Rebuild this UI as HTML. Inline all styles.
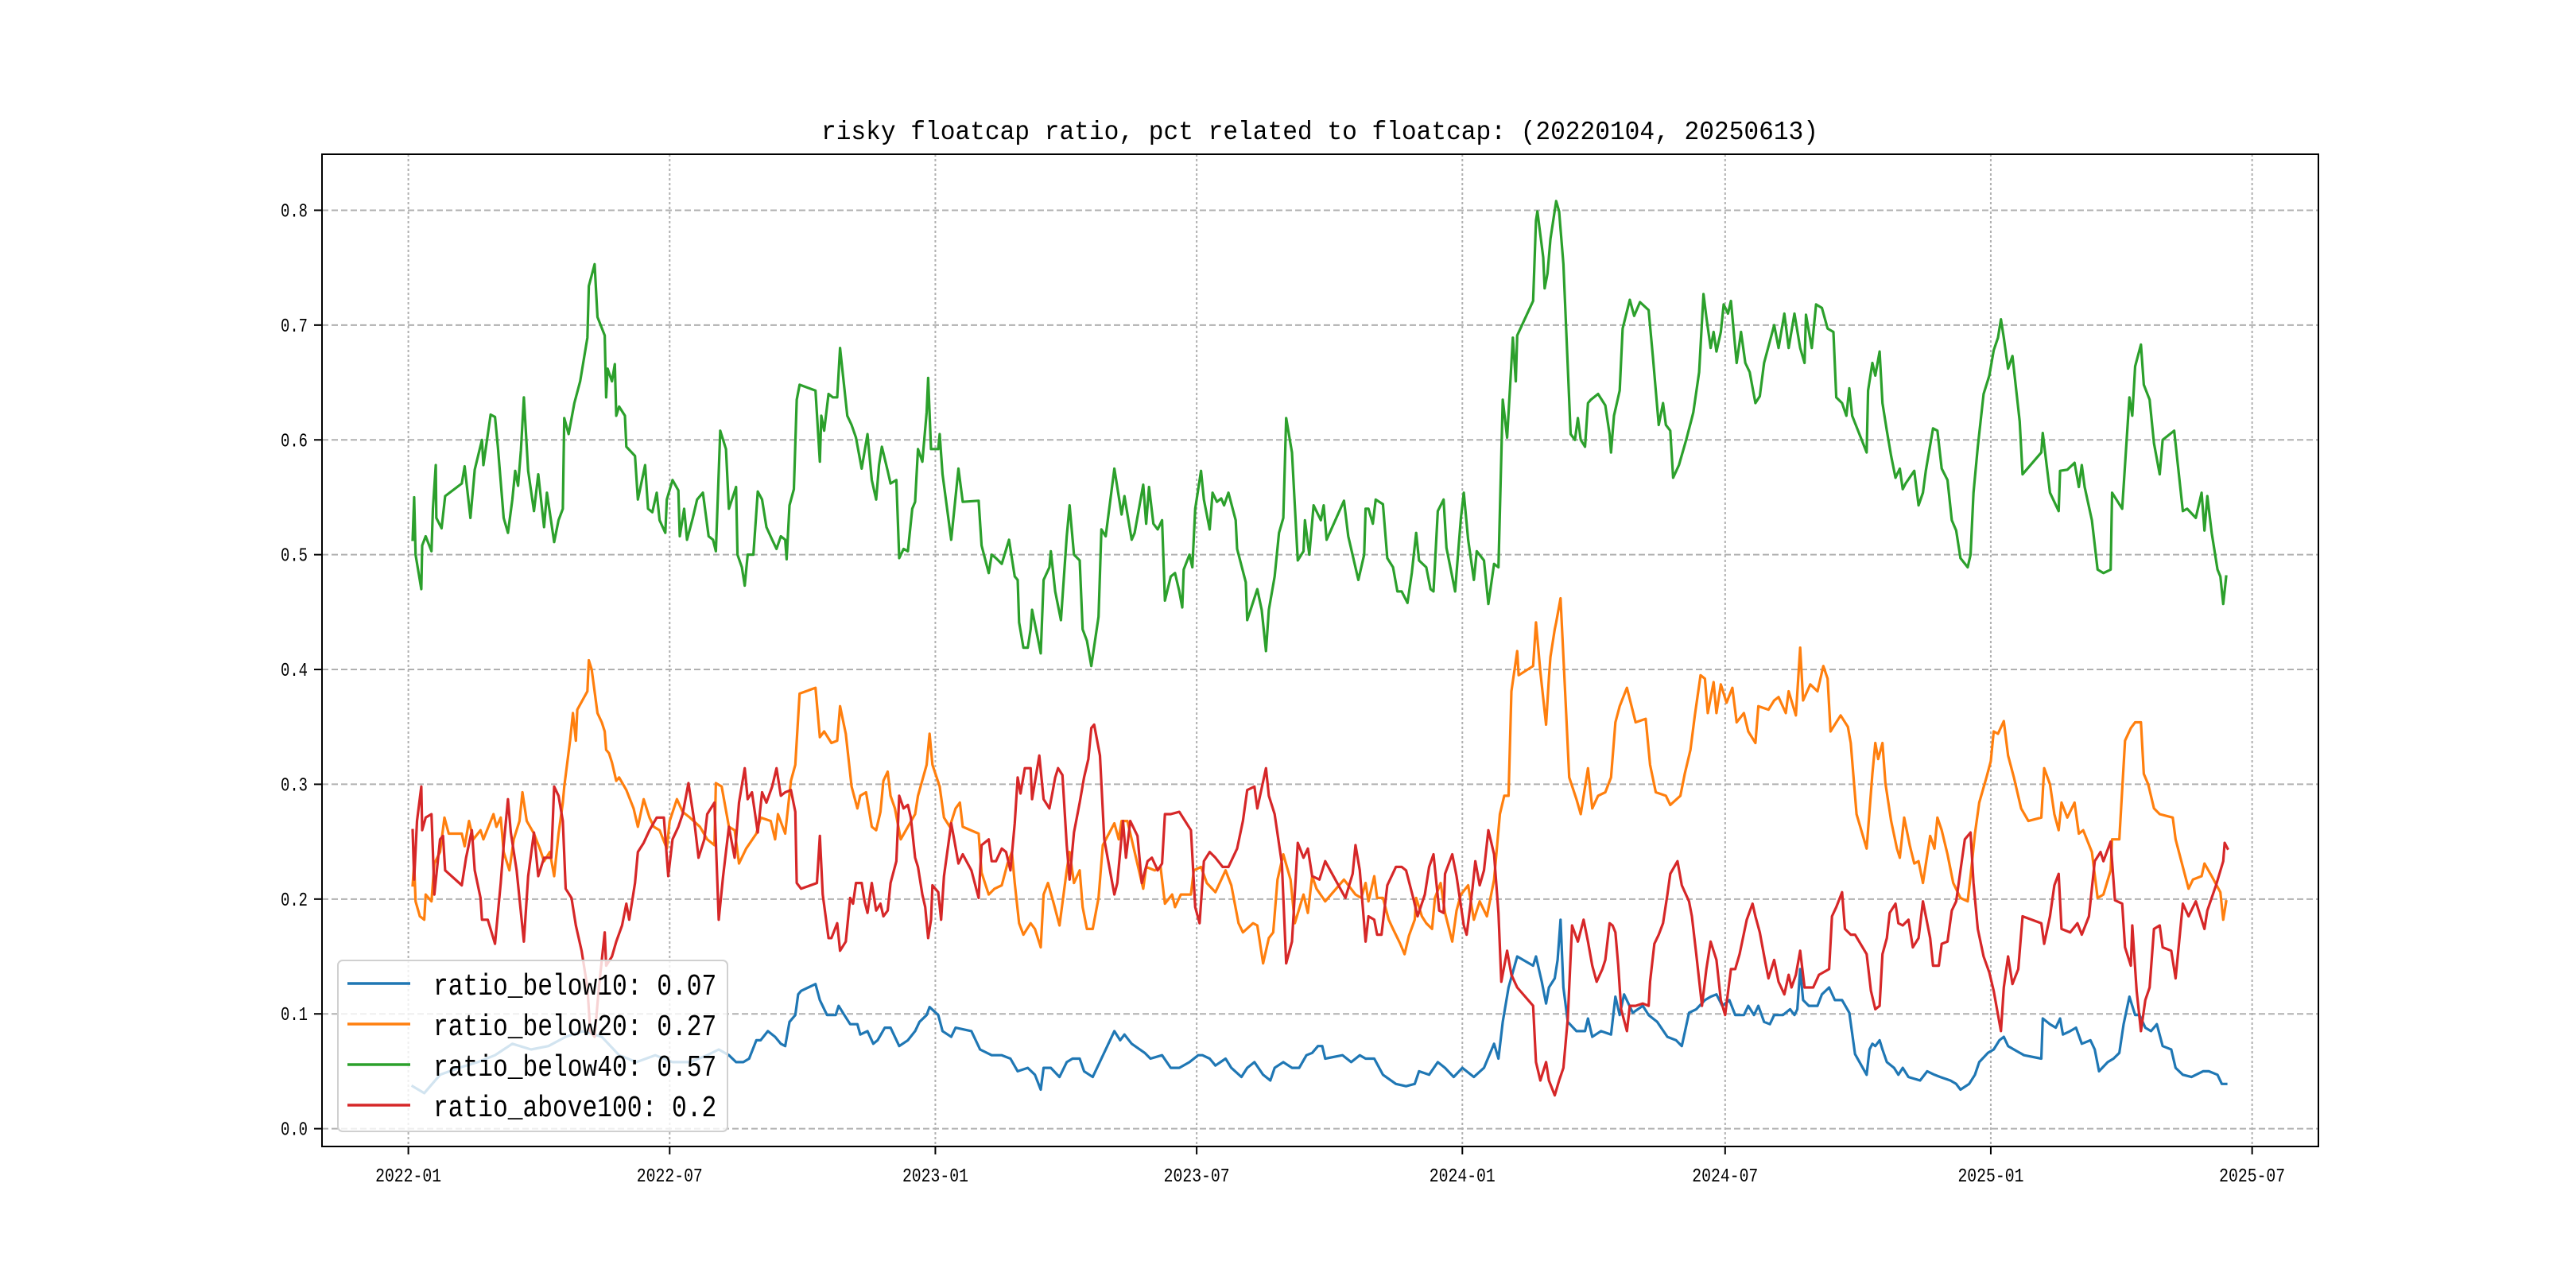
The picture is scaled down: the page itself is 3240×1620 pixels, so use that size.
<!DOCTYPE html>
<html><head><meta charset="utf-8">
<style>
html,body{margin:0;padding:0;background:#fff;}
svg{display:block;}
text{font-family:"Liberation Mono","WenQuanYi Zen Hei",monospace;fill:#000;}
</style></head>
<body>
<svg id="chart" width="3240" height="1620" viewBox="0 0 3240 1620" xmlns="http://www.w3.org/2000/svg">
<rect width="3240" height="1620" fill="#fff"/>
<g id="grid"></g>
<g id="series"></g>
<rect x="405" y="194" width="2511" height="1248" fill="none" stroke="#000" stroke-width="2"/>
<g id="xticks"></g>
<g id="yticks"></g>
<text x="1660" y="175" text-anchor="middle" font-size="33" textLength="1254" lengthAdjust="spacingAndGlyphs">risky floatcap ratio, pct related to floatcap: (20220104, 20250613)</text>
<g id="legend"></g>
</svg>
<script>
// x values: days since 2022-01-01
const xTickDays = [0,181,365,546,730,912,1096,1277];
const xTickLabels = ["2022-01","2022-07","2023-01","2023-07","2024-01","2024-07","2025-01","2025-07"];
const yTicks = [0,0.1,0.2,0.3,0.4,0.5,0.6,0.7,0.8];
const yTickLabels = ["0.0","0.1","0.2","0.3","0.4","0.5","0.6","0.7","0.8"];
const seriesNames = ["ratio_below10: 0.07","ratio_below20: 0.27","ratio_below40: 0.57","ratio_above100: 0.2"];
const seriesColors = ["#1f77b4","#ff7f0e","#2ca02c","#d62728"];

const below10 = [[3,.037],[11,.031],[22,.047],[35,.053],[48,.058],[60,.064],[72,.074],[85,.069],[97,.072],[109,.080],[121,.085],[134,.080],[146,.064],[158,.058],[171,.064],[183,.058],[195,.058],[207,.064],[215,.069],[222,.064],[227,.058],[232,.058],[236,.061],[241,.077],[244,.077],[249,.085],[254,.080],[258,.074],[261,.072],[264,.093],[268,.099],[270,.117],[272,.120],[282,.126],[285,.112],[290,.099],[296,.099],[298,.107],[302,.099],[306,.091],[311,.091],[313,.082],[318,.085],
[322,.074],[325,.077],[330,.088],[334,.088],[340,.072],[346,.077],[351,.085],[354,.093],[359,.099],[361,.106],[367,.099],[370,.085],[376,.080],[379,.088],[390,.085],[396,.069],[404,.064],[411,.064],[417,.061],[422,.050],[429,.053],[434,.047],[438,.034],[440,.053],[445,.053],[451,.045],[456,.058],[460,.061],[465,.061],[468,.050],[474,.045],[480,.061],[489,.085],[493,.077],[496,.082],[501,.074],[510,.066],[514,.061],[522,.064],[528,.053],[534,.053],[541,.058],[547,.064],[550,.064],[555,.061],[559,.055],[566,.061],[570,.053],[577,.045],[581,.053],[586,.058],[592,.047],[597,.042],[600,.053],[606,.058],[612,.053],[617,.053],[622,.064],[626,.066],[630,.072],[633,.072],[635,.061],[647,.064],[653,.058],[659,.064],[663,.061],
[669,.061],[675,.047],[684,.039],[691,.037],[697,.039],[700,.050],[707,.047],[713,.058],[718,.053],[724,.045],[730,.053],[738,.045],[745,.053],[752,.074],[755,.061],[758,.093],[762,.123],[768,.150],[779,.142],[781,.150],[785,.128],[788,.109],[790,.123],[794,.131],[796,.147],[798,.182],[800,.123],[803,.093],[809,.085],[815,.085],[817,.096],[820,.080],[826,.085],[833,.082],[836,.115],[839,.099],[842,.117],[848,.101],[855,.107],[859,.099],[865,.093],[872,.080],[878,.077],[882,.072],[887,.101],[892,.104],[898,.112],[902,.115],[906,.117],[910,.107],[915,.112],[919,.099],[925,.099],[928,.107],[932,.099],[935,.107],[939,.093],[943,.091],[946,.099],[952,.099],[957,.104],[960,.099],[962,.104],[964,.139],[966,.112],[970,.107],[976,.107],[979,.117],[984,.123],[988,.112],[993,.112],[998,.101],[1002,.065],
[1010,.047],[1012,.069],[1014,.074],[1016,.072],[1019,.077],[1021,.069],[1024,.058],[1029,.053],[1032,.047],[1035,.053],[1039,.045],[1047,.042],[1052,.050],[1057,.047],[1061,.045],[1068,.042],[1072,.039],[1075,.034],[1081,.039],[1085,.047],[1088,.058],[1094,.066],[1098,.069],[1102,.077],[1105,.080],[1108,.072],[1112,.069],[1119,.064],[1131,.061],[1132,.096],[1137,.091],[1141,.088],[1144,.096],[1146,.082],[1151,.085],[1155,.088],[1159,.074],[1165,.077],[1168,.069],[1171,.050],[1177,.058],[1181,.061],[1185,.066],[1188,.091],[1192,.115],[1196,.099],[1199,.099],[1203,.088],[1207,.085],[1211,.091],[1215,.072],[1221,.069],[1224,.053],[1229,.047],[1235,.045],[1243,.050],[1247,.050],[1253,.047],[1256,.039],[1259,.039]];

const below20 = [[3,.212],[4,.231],[5,.198],[8,.185],[11,.182],[12,.204],[16,.198],[18,.231],[22,.241],[25,.271],[28,.257],[37,.257],[39,.246],[42,.268],[45,.252],[50,.260],[52,.252],[59,.274],[61,.263],[64,.271],[66,.241],[70,.225],[73,.252],[77,.268],[79,.293],[82,.268],[87,.257],[91,.244],[94,.233],[98,.241],[101,.220],[104,.257],[107,.284],[108,.298],[112,.338],[114,.362],[116,.338],[117,.365],[124,.381],[125,.408],[127,.400],[131,.362],[134,.354],[136,.346],[137,.330],[139,.327],[141,.319],[144,.303],[146,.306],[151,.295],[156,.279],[159,.263],[163,.287],[167,.271],[170,.263],[174,.260],[179,.244],[181,.268],[186,.287],[190,.276],[195,.271],[202,.263],[207,.252],[212,.247],[213,.301],[217,.298],[222,.263],[226,.260],[229,.231],[234,.244],[241,.257],[244,.271],[251,.268],[254,.252],[256,.274],[261,.257],[265,.303],[268,.317],[271,.379],[282,.384],[285,.341],[288,.346],[293,.336],[297,.338],[299,.368],[303,.344],[307,.298],[311,.279],[313,.290],[317,.293],
[321,.263],[324,.260],[327,.276],[329,.303],[332,.311],[334,.290],[337,.279],[341,.252],[346,.263],[351,.274],[353,.290],[359,.317],[361,.344],[363,.317],[368,.298],[371,.271],[375,.263],[379,.279],[382,.284],[384,.263],[395,.257],[397,.223],[402,.204],[406,.209],[411,.212],[415,.231],[418,.241],[420,.214],[423,.179],[426,.169],[431,.179],[434,.174],[438,.158],[440,.204],[443,.214],[447,.196],[451,.177],[456,.225],[458,.241],[461,.214],[465,.225],[467,.193],[470,.174],[474,.174],[478,.201],[481,.247],[489,.266],[492,.252],[494,.268],[498,.268],[503,.241],[509,.209],[511,.228],[517,.225],[521,.228],[524,.196],[529,.204],[531,.193],[535,.204],[542,.204],[544,.225],[549,.228],[553,.214],[559,.206],[566,.225],[570,.212],[575,.179],[578,.171],[585,.179],[588,.177],[592,.144],[596,.166],[599,.171],[602,.217],[606,.239],[611,.217],[614,.179],[620,.204],[623,.188],[626,.220],[629,.209],[635,.198],[648,.217],[656,.204],[660,.201],
[663,.214],[665,.198],[669,.220],[671,.201],[675,.201],[679,.182],[682,.174],[687,.161],[690,.152],[693,.168],[697,.182],[698,.201],[702,.185],[705,.179],[709,.174],[711,.201],[715,.214],[718,.188],[723,.163],[726,.190],[729,.204],[734,.212],[738,.182],[742,.198],[747,.185],[752,.217],[756,.274],[759,.290],[762,.290],[764,.381],[768,.416],[769,.395],[779,.403],[781,.441],[784,.398],[788,.352],[790,.393],[791,.411],[794,.435],[795,.441],[798,.462],[802,.360],[804,.306],[809,.287],[812,.274],[817,.314],[820,.279],[824,.290],[829,.293],[833,.306],[836,.354],[839,.368],[844,.384],[850,.354],[857,.357],[860,.317],[864,.293],[871,.290],[874,.282],[881,.290],[884,.309],[888,.330],[891,.360],[895,.395],[898,.392],[900,.362],[904,.389],[906,.362],[909,.387],[913,.371],[917,.384],[920,.354],[925,.362],[928,.346],[933,.336],[935,.368],[942,.365],[946,.373],[949,.376],[954,.362],[956,.381],[961,.360],[964,.419],[966,.373],[971,.387],[976,.381],[980,.403],[983,.392],[985,.346],[992,.360],[997,.350],[999,.336],[1003,.274],
[1010,.244],[1014,.309],[1016,.336],[1018,.322],[1021,.336],[1023,.301],[1027,.268],[1031,.244],[1033,.236],[1036,.271],[1040,.246],[1043,.231],[1046,.233],[1049,.214],[1054,.255],[1057,.244],[1059,.271],[1062,.260],[1066,.239],[1070,.214],[1075,.201],[1080,.198],[1082,.220],[1085,.257],[1088,.284],[1093,.306],[1096,.320],[1098,.346],[1101,.344],[1105,.355],[1108,.325],[1112,.306],[1117,.279],[1122,.268],[1131,.271],[1133,.314],[1137,.300],[1140,.274],[1143,.260],[1145,.284],[1149,.271],[1154,.284],[1157,.257],[1160,.260],[1166,.241],[1170,.201],[1174,.204],[1179,.225],[1180,.252],[1185,.252],[1189,.338],[1193,.349],[1196,.354],[1200,.354],[1202,.309],[1205,.300],[1209,.279],[1213,.274],[1222,.271],[1224,.252],[1229,.228],[1233,.209],[1236,.217],[1242,.220],[1244,.231],[1249,.220],[1255,.206],[1257,.182],[1259,.198]];

const below40 = [[3,.513],[4,.550],[5,.500],[9,.470],[9.6,.508],[12,.516],[16,.503],[17,.540],[19,.578],[19.4,.532],[23,.523],[25.5,.551],[37,.562],[39,.577],[43,.532],[46,.574],[51,.600],[52,.578],[57,.622],[60,.620],[62,.594],[66,.532],[69,.519],[72,.548],[74,.573],[76,.560],[78,.591],[80,.637],[83,.573],[87,.538],[90,.570],[94,.524],[96,.554],[101,.511],[104,.530],[107,.540],[108,.619],[111,.605],[115,.632],[119,.651],[124,.689],[125,.734],[129,.753],[131,.707],[136,.691],[137,.637],[138,.662],[141,.651],[143,.666],[144,.621],[146,.629],[150,.621],[151,.594],[157,.586],[159,.548],[164,.578],[166,.540],[169,.537],[172,.554],[174,.530],[178,.519],[179,.548],[183,.565],[187,.556],[188,.516],[191,.540],[193,.513],[197,.532],[200,.548],[204,.554],[208,.516],[211,.513],[213,.503],[216,.608],[220,.592],[222,.540],[227,.559],[228,.500],[231,.489],[233,.473],[235,.500],[239,.500],[242,.555],[245,.548],[248,.524],[252,.513],[255,.505],[258,.516],[261,.513],[262,.496],[264,.543],[267,.557],[269,.635],[271,.648],[282,.643],[285,.581],[286,.621],[288,.608],[291,.640],[294,.637],[297,.637],[299,.680],[304,.621],[307,.613],[310,.602],[314,.575],[318,.605],[321,.565],[324,.548],[326,.578],[328,.594],[332,.573],[334,.562],[338,.565],[340,.497],[343,.505],[346,.503],[349,.540],[351,.546],[353,.592],[356,.581],[359,.624],[360,.654],[362,.592],[367,.592],[368,.605],[370,.570],[376,.513],[381,.575],[384,.546],[395,.547],[397,.508],[402,.484],[404,.500],[407,.497],[411,.492],[416,.513],[420,.481],[422,.478],[423,.441],[426,.419],[429,.419],[431,.435],[432,.452],[436,.427],[438,.414],[440,.478],[444,.489],[445,.503],[448,.468],[452,.443],[456,.516],[458,.543],[461,.500],[465,.495],[467,.435],[470,.425],[473,.403],[478,.446],[480,.522],[483,.516],[489,.575],[494,.535],[496,.551],[501,.513],[503,.519],[509,.561],[511,.527],[513,.559],[516,.527],[519,.522],[522,.530],[524,.460],[528,.481],[531,.484],[534,.468],[536,.454],[537,.487],[541,.500],[543,.489],[545,.540],[549,.573],[551,.548],[555,.522],[557,.554],[560,.546],[563,.549],[565,.543],[568,.554],[573,.530],[574,.505],[580,.476],[581,.443],[588,.470],[591,.452],[594,.416],[596,.452],[600,.481],[603,.519],[606,.532],[608,.619],[612,.589],[616,.495],[620,.503],[621,.530],[624,.500],[627,.543],[632,.530],[634,.543],[636,.513],[648,.547],[651,.516],[658,.478],[662,.500],[663,.540],[665,.540],[668,.527],[670,.548],[675,.544],[678,.497],[682,.489],[685,.468],[688,.468],[692,.458],[695,.484],[698,.519],[700,.495],[705,.489],[708,.470],[710,.468],[713,.538],[717,.548],[719,.506],[722,.487],[725,.468],[727,.500],[729,.532],[731,.554],[734,.513],[738,.478],[740,.503],[745,.495],[748,.457],[752,.492],[755,.489],[758,.635],[761,.602],[763,.645],[765,.689],[767,.651],[768,.691],[779,.721],[781,.791],[782,.799],[786,.759],[787,.732],[789,.745],[791,.775],[795,.808],[797,.799],[800,.753],[805,.605],[808,.600],[810,.619],[812,.600],[815,.594],[817,.632],[819,.635],[824,.640],[829,.630],[832,.605],[833,.589],[835,.621],[839,.643],[841,.697],[846,.722],[849,.708],[853,.720],[859,.713],[862,.672],[866,.613],[869,.632],[871,.613],[874,.608],[876,.567],[880,.578],[885,.600],[889,.619],[890,.624],[894,.659],[897,.727],[899,.707],[902,.680],[904,.694],[906,.677],[909,.694],[911,.718],[914,.710],[916,.721],[918,.694],[920,.667],[923,.694],[926,.667],[929,.659],[933,.632],[936,.638],[939,.667],[943,.686],[946,.700],[949,.680],[953,.710],[956,.680],[960,.710],[964,.680],[967,.667],[968,.709],[972,.680],[975,.718],[979,.715],[983,.697],[987,.694],[989,.637],[993,.632],[996,.621],[998,.645],[1000,.621],[1010,.589],[1011,.643],[1014,.667],[1016,.656],[1019,.677],[1021,.632],[1024,.608],[1027,.586],[1030,.567],[1033,.575],[1035,.557],[1037,.562],[1043,.573],[1046,.543],[1049,.554],[1051,.573],[1056,.610],[1059,.608],[1062,.575],[1066,.565],[1069,.530],[1072,.521],[1075,.497],[1080,.489],[1082,.500],[1084,.554],[1087,.594],[1091,.640],[1095,.656],[1098,.678],[1101,.689],[1103,.705],[1105,.689],[1108,.662],[1111,.673],[1116,.616],[1118,.570],[1131,.589],[1132,.606],[1137,.554],[1143,.538],[1144,.573],[1149,.574],[1154,.580],[1157,.559],[1159,.578],[1161,.559],[1166,.530],[1170,.487],[1174,.484],[1179,.487],[1180,.554],[1187,.540],[1192,.637],[1194,.621],[1196,.664],[1200,.683],[1202,.648],[1206,.635],[1209,.597],[1213,.570],[1215,.600],[1223,.608],[1229,.538],[1232,.540],[1238,.532],[1242,.554],[1244,.521],[1246,.551],[1249,.519],[1253,.487],[1255,.481],[1257,.457],[1259,.481]];

const above100 = [[3,.260],[4,.217],[6,.268],[9,.298],[9.6,.260],[12,.271],[16,.274],[17,.241],[18,.204],[22,.252],[24,.255],[25.5,.225],[37,.212],[40,.236],[44,.260],[46,.225],[50,.201],[51,.182],[55,.182],[60,.161],[64,.214],[66,.247],[69,.287],[71,.258],[75,.225],[80,.163],[83,.220],[87,.258],[90,.220],[94,.236],[99,.236],[101,.298],[104,.290],[107,.268],[109,.209],[113,.201],[116,.177],[120,.155],[124,.123],[126,.085],[129,.080],[132,.123],[136,.171],[137,.142],[141,.150],[144,.163],[148,.177],[151,.196],[153,.182],[157,.214],[159,.241],[163,.249],[167,.260],[172,.271],[177,.271],[180,.220],[183,.252],[187,.263],[190,.274],[194,.301],[198,.268],[201,.236],[205,.252],[207,.274],[212,.284],[215,.182],[218,.220],[222,.263],[226,.236],[229,.284],[233,.314],[235,.287],[238,.293],[242,.258],[245,.293],[248,.284],[252,.298],[255,.314],[258,.290],[261,.293],[265,.295],[268,.276],[269,.214],[272,.209],[283,.214],[285,.255],[287,.204],[291,.166],[293,.166],[297,.179],[299,.155],[303,.163],[306,.201],[308,.196],[310,.214],[314,.214],[316,.198],[318,.188],[321,.214],[324,.190],[327,.196],[329,.185],[332,.190],[334,.214],[338,.233],[340,.290],[343,.279],[346,.282],[348,.271],[351,.236],[353,.228],[356,.204],[358,.193],[360,.166],[362,.182],[363,.212],[367,.206],[369,.182],[371,.220],[376,.266],[378,.252],[381,.231],[384,.239],[390,.225],[395,.201],[397,.247],[399,.249],[402,.252],[404,.233],[407,.233],[411,.244],[414,.241],[417,.225],[420,.266],[422,.306],[424,.292],[427,.314],[431,.314],[432,.287],[437,.325],[440,.287],[444,.279],[446,.292],[448,.306],[450,.314],[453,.308],[456,.247],[458,.217],[461,.258],[465,.284],[468,.306],[471,.322],[473,.349],[475,.352],[479,.325],[482,.252],[489,.204],[491,.214],[495,.268],[497,.236],[500,.268],[505,.255],[508,.214],[512,.233],[515,.236],[519,.225],[522,.231],[524,.274],[528,.274],[534,.276],[542,.260],[545,.193],[548,.179],[551,.233],[555,.241],[559,.236],[564,.228],[568,.228],[574,.244],[578,.268],[581,.295],[586,.298],[588,.279],[594,.314],[596,.290],[600,.274],[605,.231],[608,.144],[612,.163],[616,.249],[620,.236],[623,.244],[626,.220],[631,.217],[635,.233],[649,.201],[654,.222],[656,.247],[659,.225],[663,.163],[665,.185],[669,.182],[671,.169],[674,.169],[678,.212],[684,.228],[688,.228],[691,.225],[696,.201],[699,.185],[704,.204],[707,.228],[710,.239],[714,.190],[717,.188],[718,.222],[723,.239],[726,.220],[731,.177],[733,.169],[737,.209],[739,.233],[742,.212],[745,.225],[748,.260],[752,.239],[755,.188],[757,.128],[761,.155],[764,.134],[768,.123],[779,.107],[781,.058],[784,.042],[788,.058],[790,.042],[794,.029],[797,.042],[800,.053],[803,.096],[806,.177],[810,.163],[814,.182],[817,.163],[820,.142],[823,.128],[827,.139],[829,.147],[832,.179],[834,.177],[836,.171],[838,.142],[840,.104],[844,.085],[846,.107],[850,.107],[855,.109],[859,.107],[860,.128],[863,.161],[866,.169],[869,.179],[872,.204],[874,.222],[879,.233],[882,.212],[887,.198],[889,.185],[892,.152],[896,.107],[899,.139],[902,.163],[906,.147],[909,.112],[912,.099],[916,.139],[919,.139],[922,.152],[927,.182],[931,.196],[933,.185],[936,.171],[940,.144],[942,.131],[946,.147],[949,.128],[953,.117],[956,.134],[958,.123],[961,.134],[964,.155],[967,.123],[973,.123],[977,.134],[984,.139],[986,.185],[989,.193],[993,.206],[995,.174],[999,.169],[1002,.169],[1010,.152],[1013,.120],[1016,.104],[1019,.107],[1021,.152],[1024,.166],[1026,.188],[1030,.196],[1032,.179],[1035,.177],[1039,.182],[1042,.158],[1046,.166],[1049,.198],[1054,.166],[1056,.142],[1060,.142],[1062,.161],[1066,.163],[1069,.190],[1072,.198],[1075,.225],[1078,.252],[1082,.258],[1084,.214],[1087,.174],[1091,.150],[1095,.136],[1098,.120],[1103,.085],[1105,.123],[1108,.150],[1111,.126],[1115,.139],[1118,.185],[1131,.179],[1133,.161],[1137,.185],[1140,.212],[1143,.222],[1145,.174],[1151,.171],[1156,.179],[1159,.169],[1164,.185],[1168,.233],[1172,.241],[1174,.233],[1179,.250],[1182,.199],[1187,.196],[1189,.158],[1193,.142],[1194,.177],[1197,.120],[1200,.085],[1203,.112],[1206,.123],[1209,.174],[1213,.177],[1215,.158],[1221,.155],[1224,.131],[1229,.196],[1233,.185],[1238,.198],[1244,.174],[1246,.190],[1252,.212],[1257,.233],[1258,.249],[1260,.244]];

const allSeries = [below10, below20, below40, above100];

// axis functions
const AX = {left:405, right:2916, top:194, bottom:1442};
const X_MIN = -59.8, X_MAX = 1322.9;
const Y_MIN = -0.0155, Y_MAX = 0.8488;
function xScale(d){ return AX.left + (d - X_MIN) / (X_MAX - X_MIN) * (AX.right - AX.left); }
function yScale(v){ return AX.bottom - (v - Y_MIN) / (Y_MAX - Y_MIN) * (AX.bottom - AX.top); }

const NS = "http://www.w3.org/2000/svg";
function mk(tag, attrs, parent){
  const e = document.createElementNS(NS, tag);
  for (const k in attrs) e.setAttribute(k, attrs[k]);
  parent.appendChild(e);
  return e;
}
const grid = document.getElementById('grid');
const xt = document.getElementById('xticks');
const yt = document.getElementById('yticks');

xTickDays.forEach((d, i) => {
  const x = xScale(d);
  const gl = mk('line', {x1:x, x2:x, y1:AX.top, y2:AX.bottom, stroke:'#b0b0b0', 'stroke-width':2, 'stroke-dasharray':'3,3'}, grid);
  
  
  const tk = mk('line', {x1:x, x2:x, y1:AX.bottom, y2:AX.bottom+10, stroke:'#000', 'stroke-width':2}, xt);
  
  
  const t = mk('text', {x:x, y:AX.bottom+44, 'text-anchor':'middle', 'font-size':24, textLength:83, lengthAdjust:'spacingAndGlyphs'}, xt);
  t.textContent = xTickLabels[i];
  
  
});
yTicks.forEach((v, i) => {
  const y = yScale(v);
  const gl = mk('line', {x1:AX.left, x2:AX.right, y1:y, y2:y, stroke:'#b0b0b0', 'stroke-width':2, 'stroke-dasharray':'8,4'}, grid);
  
  
  const tk = mk('line', {x1:AX.left-10, x2:AX.left, y1:y, y2:y, stroke:'#000', 'stroke-width':2}, yt);
  
  
  const t = mk('text', {x:AX.left-18, y:y+8, 'text-anchor':'end', 'font-size':24, textLength:34, lengthAdjust:'spacingAndGlyphs'}, yt);
  t.textContent = yTickLabels[i];
  
  
});

const sg = document.getElementById('series');
const lineNames = ['line-ratio-below10','line-ratio-below20','line-ratio-below40','line-ratio-above100'];
allSeries.forEach((s, i) => {
  const d = s.map((p, j) => (j ? 'L' : 'M') + xScale(p[0]).toFixed(1) + ',' + yScale(p[1]).toFixed(1)).join('');
  const p = mk('path', {d:d, fill:'none', stroke:seriesColors[i], 'stroke-width':3.2, 'stroke-linejoin':'round', 'stroke-linecap':'square'}, sg);
  
  
});

const lg = document.getElementById('legend');
const box = mk('rect', {x:425, y:1208, width:490, height:215, rx:6, fill:'#fff', 'fill-opacity':0.8, stroke:'#d0d0d0', 'stroke-width':2}, lg);


seriesNames.forEach((n, i) => {
  const y = 1237 + i * 51;
  const ln = mk('line', {x1:437, x2:516, y1:y, y2:y, stroke:seriesColors[i], 'stroke-width':3.5}, lg);
  
  
  const t = mk('text', {x:545, y:y+14, 'font-size':38, textLength: n.length * 18.75, lengthAdjust:'spacingAndGlyphs'}, lg);
  t.textContent = n;
  
  
});
</script>
</body></html>
